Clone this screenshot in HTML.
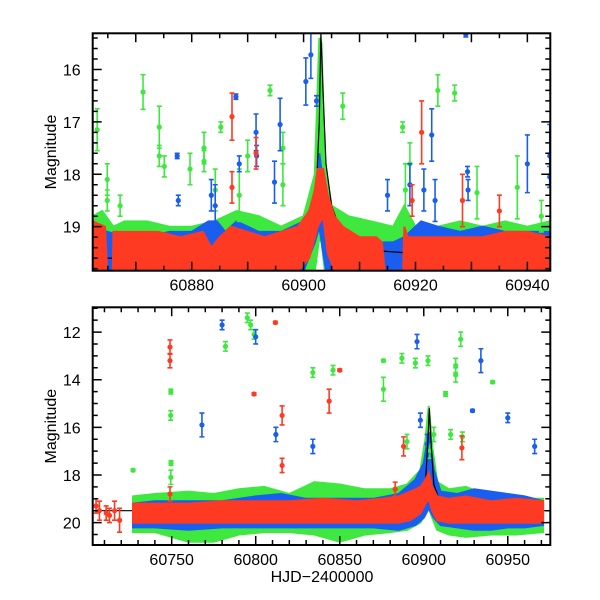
<!DOCTYPE html>
<html><head><meta charset="utf-8"><style>
html,body{margin:0;padding:0;background:#fff;}
svg{display:block;font-family:"Liberation Sans",sans-serif;}
</style></head><body>
<svg id="chart" width="600" height="600" viewBox="0 0 600 600"></svg>
<script>
// ---------- DATA ----------
const topGreenT=[60862.3,60864,60866,60868,60872,60876,60880,60884,60888,60892,60896,60900,60902,60902.8,60903.2,60903.8,60905,60908,60912,60916,60918,60920,60924,60928,60932,60936,60940,60944];
const topGreenHi=[18.8,18.7,19.0,18.9,18.9,19.0,19.0,18.9,18.7,18.8,19.0,18.8,18.0,15.4,15.5,17.8,18.6,18.8,18.9,19.0,18.6,19.0,19.0,18.9,19.0,18.9,19.0,18.9];
const topGreenLo=[19.84,19.84,19.84,19.84,19.84,19.84,19.84,19.84,19.84,19.84,19.84,19.84,19.84,19.2,19.3,19.84,19.84,19.84,19.84,19.84,19.84,19.84,19.84,19.84,19.84,19.84,19.84,19.84];
const topBlueT=[60862.3,60865,60868,60872,60876,60880,60883,60884.5,60886,60888,60892,60896,60900,60902,60902.8,60904,60906,60910,60914,60916,60918,60921,60924,60928,60932,60936,60940,60944];
const topBlueHi=[19.0,19.1,19.2,19.2,19.1,19.1,18.9,18.9,19.1,18.9,19.1,19.1,18.9,18.5,17.6,18.6,19.0,19.2,19.3,19.3,19.2,18.9,19.0,19.1,19.0,19.1,19.1,19.1];
const topBlueLo=[19.84,19.84,19.84,19.84,19.84,19.84,19.84,19.84,19.84,19.84,19.84,19.84,19.84,19.3,19.0,19.84,19.84,19.84,19.84,19.84,19.84,19.84,19.84,19.84,19.84,19.84,19.84,19.84];
const topRedT=[60862.3,60864.5,60864.9,60865.9,60866,60870,60874,60878,60882,60883.5,60885,60887,60890,60893,60896,60899,60901,60902,60902.5,60903.5,60904.3,60905.5,60907,60910,60913,60914,60914.5,60917.8,60918,60918.6,60921,60925,60928,60932,60936,60940,60944];
const topRedHi=[18.9,19.0,19.84,19.84,19.1,19.1,19.1,19.2,19.1,19.4,19.2,19.0,19.1,19.2,19.1,19.0,18.7,18.3,17.9,17.9,18.4,18.8,19.0,19.2,19.2,19.3,19.84,19.84,19.0,19.2,19.2,19.2,19.2,19.2,19.1,19.1,19.2];
const topRedLo=[19.84,19.84,19.84,19.84,19.84,19.84,19.84,19.84,19.84,19.84,19.84,19.84,19.84,19.84,19.84,19.84,19.6,19.2,19.0,18.8,19.5,19.84,19.84,19.84,19.84,19.84,19.84,19.84,19.84,19.84,19.84,19.84,19.84,19.84,19.84,19.84,19.84];
const topGreenPtT=[60863.1,60864.9,60864.9,60867.2,60871.3,60874.2,60874.2,60875.1,60879.7,60882.2,60882.2,60885.2,60884.2,60890.0,60894.0,60896.3,60896.3,60907.0,60917.7,60919.0,60924.0,60927.0,60931.0,60938.2,60942.5,60888.5,60918.2];
const topGreenPtM=[17.15,18.1,18.5,18.6,16.43,17.1,17.65,17.85,17.9,17.5,17.75,17.1,18.3,17.65,16.4,17.5,18.2,16.7,17.1,17.8,16.4,16.45,18.35,18.25,18.8,18.4,18.3];
const topGreenPtE=[0.4,0.3,0.2,0.2,0.33,0.4,0.2,0.2,0.3,0.3,0.2,0.1,0.4,0.3,0.1,0.3,0.4,0.25,0.1,0.4,0.3,0.15,0.5,0.6,0.3,0.5,0.5];
const topBluePtT=[60877.4,60877.6,60887.9,60888.5,60891.5,60891.6,60895.8,60894.8,60900.4,60901.3,60902.3,60915.0,60922.9,60929.0,60929.3,60929.4,60940.0,60944.0,60944.0,60919.0,60883.5,60884.2,60921.5,60923.5];
const topBluePtM=[17.65,18.5,16.52,17.8,17.2,17.65,17.05,18.15,16.23,15.72,16.6,18.4,17.25,15.33,17.95,18.3,17.8,17.65,18.05,18.2,18.4,18.6,18.3,18.5];
const topBluePtE=[0.05,0.1,0.05,0.15,0.35,0.2,0.5,0.4,0.45,0.45,0.1,0.3,0.5,0.05,0.1,0.2,0.55,0.6,0.2,0.4,0.3,0.4,0.4,0.4];
const topRedPtT=[60887.2,60891.5,60887.2,60919.4,60921.1,60928.4,60935.0];
const topRedPtM=[16.9,17.6,18.25,18.5,17.2,18.5,18.7];
const topRedPtE=[0.45,0.3,0.3,0.3,0.6,0.5,0.3];
const topModelT=[60862.3,60890,60899,60901.5,60902.3,60902.8,60903.1,60903.5,60904,60905,60907,60912,60925,60944];
const topModelM=[19.6,19.6,19.5,19.0,18.2,17.0,15.3,16.5,17.8,18.6,19.2,19.45,19.55,19.6];

const botGreenT=[60727,60740,60760,60775,60790,60805,60820,60835,60850,60865,60880,60890,60898,60901,60903,60905,60908,60915,60925,60940,60955,60971];
const botGreenHi=[18.9,18.8,18.7,18.8,18.6,18.5,18.8,18.3,18.4,18.6,18.6,18.4,17.8,16.5,15.1,16.8,18.3,18.6,18.5,18.9,19.0,19.0];
const botGreenLo=[20.4,20.4,20.8,20.8,20.5,20.4,20.4,20.5,20.8,20.5,20.4,20.3,20.0,19.6,19.4,19.8,20.3,20.5,20.6,20.5,20.5,20.4];
const botBlueT=[60727,60740,60760,60780,60800,60815,60830,60850,60870,60885,60895,60900,60903,60906,60910,60920,60930,60940,60950,60960,60971];
const botBlueHi=[19.2,19.1,19.1,19.1,18.9,18.8,19.0,19.0,19.0,18.8,18.2,17.5,16.2,17.8,18.7,18.8,18.6,18.7,18.8,18.9,19.1];
const botBlueLo=[20.2,20.2,20.3,20.2,20.2,20.2,20.2,20.2,20.2,20.3,20.1,19.8,19.4,19.8,20.1,20.2,20.3,20.3,20.2,20.2,20.1];
const botRedT=[60727,60740,60760,60780,60800,60820,60840,60860,60875,60885,60892,60898,60901,60903,60905,60908,60915,60925,60940,60955,60971];
const botRedHi=[19.2,19.2,19.2,19.1,19.1,19.1,19.0,19.1,19.0,18.9,18.7,18.5,18.2,17.9,18.5,18.9,19.0,18.9,19.1,19.0,19.1];
const botRedLo=[20.0,20.0,20.0,20.0,20.0,20.0,20.0,20.0,20.0,20.0,19.9,19.6,19.2,19.0,19.5,19.9,20.0,20.0,20.0,20.0,20.0];
const botGreenPtT=[60727,60749.5,60749.4,60749.6,60749.5,60782,60795,60797,60799,60834,60846,60876,60876,60887,60895,60902.5,60906,60913,60919,60919,60922,60923,60941,60890,60903.5,60916];
const botGreenPtM=[17.8,14.5,15.5,17.5,18.1,12.6,11.4,11.7,12.1,13.7,13.6,13.2,14.4,13.1,13.3,13.2,16.3,14.6,13.4,13.8,12.3,16.4,14.1,16.6,17.0,16.3];
const botGreenPtE=[0.05,0.1,0.2,0.1,0.3,0.2,0.2,0.2,0.2,0.2,0.2,0.05,0.5,0.2,0.2,0.2,0.3,0.1,0.3,0.3,0.3,0.2,0.05,0.3,0.3,0.2];
const botBluePtT=[60768,60780,60800,60812,60834,60896,60934,60929,60950,60966,60898,60902];
const botBluePtM=[15.9,11.7,12.2,16.3,16.8,12.4,13.2,15.3,15.6,16.8,15.7,16.7];
const botBluePtE=[0.5,0.2,0.3,0.3,0.3,0.3,0.5,0.05,0.2,0.3,0.3,0.4];
const botRedPtT=[60705,60707,60711,60713,60716,60719,60749,60749,60749,60799,60811.7,60815.7,60815.7,60843.7,60850,60883,60922.7,60888];
const botRedPtM=[19.3,19.5,19.6,19.7,19.5,19.9,12.63,13.2,18.8,14.6,11.6,15.5,17.6,14.9,13.6,18.6,16.86,16.8];
const botRedPtE=[0.3,0.4,0.3,0.3,0.4,0.5,0.3,0.3,0.3,0.05,0.05,0.4,0.3,0.5,0.05,0.3,0.5,0.4];
const botModelT=[60703,60880,60898,60901,60902.5,60903.3,60904.5,60906,60910,60930,60975];
const botModelM=[19.5,19.5,19.2,18.4,16.5,15.2,16.8,18.4,19.2,19.5,19.5];

const topXTicks=[60880,60900,60920,60940];
const topYTicks=[16,17,18,19];
const botXTicks=[60750,60800,60850,60900,60950];
const botYTicks=[12,14,16,18,20];

// ---------- RENDER ----------
const NS="http://www.w3.org/2000/svg";
const svg=document.getElementById('chart');
function el(tag,attrs,parent){const e=document.createElementNS(NS,tag);for(const k in attrs)e.setAttribute(k,attrs[k]);(parent||svg).appendChild(e);return e;}
const GREEN="#3ee83e",BLUE="#1a5ef0",RED="#ff3a22";

function makePanel(name,L,R,T,B,x0,x1,m0,m1){
  const g=el('g',{});
  
  
  const cid='clip-'+name;
  const cp=el('clipPath',{id:cid},g);el('rect',{x:L,y:T,width:R-L,height:B-T},cp);
  const X=d=>L+(d-x0)/(x1-x0)*(R-L);
  const Y=m=>T+(m-m0)/(m1-m0)*(B-T);
  const plot=el('g',{'clip-path':'url(#'+cid+')'},g);
  return {g,plot,X,Y,L,R,T,B};
}
function band(p,ts,hi,lo,color,name){
  let d='';
  for(let i=0;i<ts.length;i++)d+=(i?'L':'M')+p.X(ts[i]).toFixed(1)+','+p.Y(hi[i]).toFixed(1);
  for(let i=ts.length-1;i>=0;i--)d+='L'+p.X(ts[i]).toFixed(1)+','+p.Y(lo[i]).toFixed(1);
  const e=el('path',{d:d+'Z',fill:color,stroke:color,'stroke-width':2},p.plot);
  
  
}
function pts(p,ts,ms,es,color,name){
  const grp=el('g',{},p.plot);
  
  
  for(let i=0;i<ts.length;i++){
    const x=p.X(ts[i]),y=p.Y(ms[i]),y1=p.Y(ms[i]-es[i]),y2=p.Y(ms[i]+es[i]);
    el('path',{d:`M${x},${y1}V${y2}M${x-2.5},${y1}h5M${x-2.5},${y2}h5`,stroke:color,'stroke-width':1.6,fill:'none'},grp);
    const c=el('circle',{cx:x,cy:y,r:2.6,fill:color},grp);
    
    
  }
}
function model(p,ts,ms,name){
  let d='';for(let i=0;i<ts.length;i++)d+=(i?'L':'M')+p.X(ts[i]).toFixed(1)+','+p.Y(ms[i]).toFixed(1);
  const e=el('path',{d,stroke:'#000','stroke-width':1.2,fill:'none'},p.plot);
  
  
}
function axes(p,x0,x1,xMinor,xMajor,xLabels,m0,m1,yMinor,yMajor,yLabels,prefix){
  const g=p.g;
  const fr=el('rect',{x:p.L,y:p.T,width:p.R-p.L,height:p.B-p.T,fill:'none',stroke:'#000','stroke-width':2},g);
  
  
  let d='';
  for(let v=Math.ceil(x0/xMinor)*xMinor;v<=x1;v+=xMinor){
    const x=p.X(v);const len=(Math.abs(v/xMajor-Math.round(v/xMajor))<1e-6)?9:5;
    d+=`M${x},${p.B}v${-len}M${x},${p.T}v${len}`;
  }
  const ys=Math.ceil(m0/yMinor-1e-6);
  for(let k=ys;k*yMinor<=m1;k++){
    const v=k*yMinor;const y=p.Y(v);const len=(Math.abs(v/yMajor-Math.round(v/yMajor))<1e-6)?9:5;
    d+=`M${p.L},${y}h${len}M${p.R},${y}h${-len}`;
  }
  el('path',{d,stroke:'#000','stroke-width':1.5,fill:'none'},g);
  xLabels.forEach(v=>{const t=el('text',{x:p.X(v),y:p.B+20,'text-anchor':'middle','font-size':16},g);t.textContent=v;
    
    });
  yLabels.forEach(v=>{const t=el('text',{x:p.L-12,y:p.Y(v)+6,'text-anchor':'end','font-size':16},g);t.textContent=v;
    
    });
  const yt=el('text',{x:0,y:0,transform:`translate(56,${(p.T+p.B)/2}) rotate(-90)`,'text-anchor':'middle','font-size':16},g);
  yt.textContent='Magnitude';
  
  
}

const P1=makePanel('top-panel',92.7,550.3,33.3,270.7,60862.3,60944.1,15.31,19.84);
band(P1,topGreenT,topGreenHi,topGreenLo,GREEN,'top-green-band');
band(P1,topBlueT,topBlueHi,topBlueLo,BLUE,'top-blue-band');
pts(P1,topGreenPtT,topGreenPtM,topGreenPtE,GREEN,'top-green-points');
pts(P1,topBluePtT,topBluePtM,topBluePtE,BLUE,'top-blue-points');
model(P1,topModelT,topModelM,'top-model-curve');
band(P1,topRedT,topRedHi,topRedLo,RED,'top-red-band');
pts(P1,topRedPtT,topRedPtM,topRedPtE,RED,'top-red-points');
axes(P1,60862.3,60944.1,5,10,topXTicks,15.31,19.84,0.2,1,topYTicks,'top');

const P2=makePanel('bottom-panel',92.7,550.3,307.3,545,60703,60975.3,10.96,20.94);
band(P2,botGreenT,botGreenHi,botGreenLo,GREEN,'bottom-green-band');
band(P2,botBlueT,botBlueHi,botBlueLo,BLUE,'bottom-blue-band');
pts(P2,botGreenPtT,botGreenPtM,botGreenPtE,GREEN,'bottom-green-points');
pts(P2,botBluePtT,botBluePtM,botBluePtE,BLUE,'bottom-blue-points');
model(P2,botModelT,botModelM,'bottom-model-curve');
band(P2,botRedT,botRedHi,botRedLo,RED,'bottom-red-band');
pts(P2,botRedPtT,botRedPtM,botRedPtE,RED,'bottom-red-points');
axes(P2,60703,60975.3,10,50,botXTicks,10.96,20.94,0.5,2,botYTicks,'bottom');

const xt=el('text',{x:322,y:582,'text-anchor':'middle','font-size':16});
xt.textContent='HJD\u22122400000';


</script>
</body></html>
